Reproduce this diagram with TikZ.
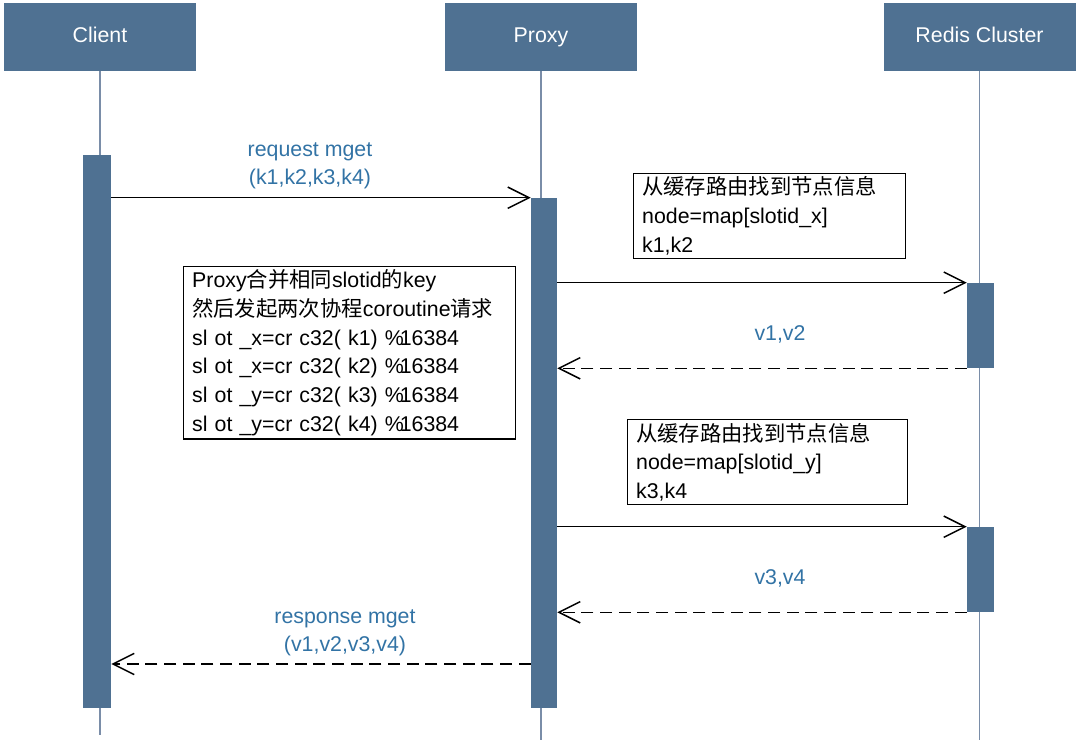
\documentclass[tikz,border=0pt]{standalone}
\usepackage{fontspec}
\setmainfont{Liberation Sans}
\newfontfamily\cjk{Noto Sans CJK SC}
\usepackage{tikz}
\usetikzlibrary{positioning,fit,arrows.meta}
\definecolor{actorblue}{RGB}{79,113,146}
\definecolor{lifegrey}{RGB}{122,141,168}
\definecolor{msgblue}{RGB}{50,115,165}

\begin{document}
\begin{tikzpicture}[x=0.75pt,y=-0.75pt,
  actor/.style={fill=actorblue,text=white,inner sep=0pt,minimum width=144pt,minimum height=51pt,text height=11.5pt,text depth=3.5pt,font=\fontsize{16}{19}\selectfont},
  bar/.style={fill=actorblue,inner sep=0pt},
  life/.style={draw=lifegrey,line width=1pt},
  call/.style={line width=1.1pt,-{Straight Barb[length=16pt,width=16pt]}},
  reply/.style={call,dash pattern=on 9pt off 5pt},
  msg/.style={text=msgblue,align=center,font=\fontsize{16}{21}\selectfont},
  note/.style={draw,line width=0.8pt,anchor=north west,align=left,inner xsep=6.5pt,inner ysep=2.5pt,font=\fontsize{16}{21.5}\selectfont}]
\useasboundingbox (0,0) rectangle (1080,745);
% actors and lifelines
\node[actor] (client) at (100,37) {Client};
\node[actor] (proxy) at (541,37) {Proxy};
\node[actor] (redis) at (979.5,37) {Redis Cluster};
\coordinate (cend) at (100,735);
\coordinate (pend) at (541,740);
\coordinate (rend) at (979.5,740);
\draw[life] (client.south) -- (cend);
\draw[life] (proxy.south) -- (pend);
\draw[life] (redis.south) -- (rend);
% activation bars
\node[bar, fit={(83,155) (111,708)}] (cbar) {};
\node[bar, fit={(531,198) (557,708)}] (pbar) {};
\node[bar, fit={(967,283) (994,368)}] (rbarx) {};
\node[bar, fit={(967,527) (994,612)}] (rbary) {};
% messages
\draw[call] (cbar.east |- pbar.north) -- (pbar.north west);
\node[msg] (reqlbl) at (310,166) {request mget\\(k1,k2,k3,k4)};
\draw[call] (pbar.east |- rbarx.north) -- (rbarx.north west);
\draw[reply] (rbarx.south west) -- (pbar.east |- rbarx.south);
\node[msg] (vxlbl) at (780,334) {v1,v2};
\draw[call] (pbar.east |- rbary.north) -- (rbary.north west);
\draw[reply] (rbary.south west) -- (pbar.east |- rbary.south);
\node[msg] (vylbl) at (780,578) {v3,v4};
\coordinate (resp) at (0,664);
\draw[reply] (pbar.west |- resp) -- (cbar.east |- resp);
\node[msg] (resplbl) at (345,633) {response mget\\(v1,v2,v3,v4)};
% notes
\node[note, text width=236pt] (merge) at (183,266) {Proxy{\cjk 合并相同}slotid{\cjk 的}key\\
  {\cjk 然后发起两次协程}coroutine{\cjk 请求}\\
  sl ot \_x=cr c32( k1) \%\kern-3pt 16384\\
  sl ot \_x=cr c32( k2) \%\kern-3pt 16384\\
  sl ot \_y=cr c32( k3) \%\kern-3pt 16384\\
  sl ot \_y=cr c32( k4) \%\kern-3pt 16384};
\node[note, text width=191pt] (routex) at (633,173) {{\cjk 从缓存路由找到节点信息}\\node=map[slotid\_x]\\k1,k2};
\node[note, text width=197pt] (routey) at (627,419) {{\cjk 从缓存路由找到节点信息}\\node=map[slotid\_y]\\k3,k4};
\end{tikzpicture}
\end{document}
